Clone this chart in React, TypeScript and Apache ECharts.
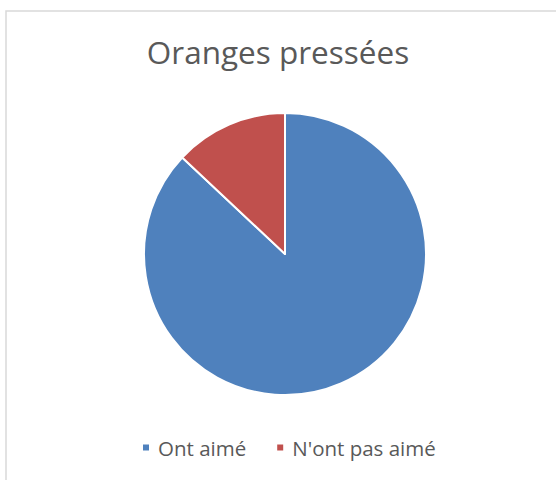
import React, { useEffect, useRef } from "react";
import * as echarts from "echarts";

const titleText = "Oranges pressées";
const categories = ["Ont aimé", "N'ont pas aimé"];
const values = [87, 13];
const colors = ["#4F81BD", "#C0504D"];

export default function App() {
  const ref = useRef<HTMLDivElement>(null);
  useEffect(() => {
    if (!ref.current) return;
    const chart = echarts.init(ref.current, null, { renderer: "svg" });
    chart.setOption({
      animation: false,
      backgroundColor: "#ffffff",
      graphic: [
        {
          type: "rect",
          shape: { x: 6, y: 11, width: 700, height: 700 },
          style: { fill: "none", stroke: "#d9d9d9", lineWidth: 1.5 },
          silent: true,
          z: -1,
        },
      ],
      title: {
        text: titleText,
        left: "center",
        top: 35,
        padding: [0, 0, 0, 22],
        textStyle: {
          fontFamily: "Open Sans",
          fontSize: 31.5,
          fontWeight: "normal",
          color: "#595959",
        },
      },
      legend: {
        data: categories,
        left: 141,
        top: 437,
        padding: 0,
        icon: "rect",
        itemWidth: 8,
        itemHeight: 8,
        itemGap: 29,
        textStyle: {
          fontFamily: "Open Sans",
          fontSize: 20.5,
          color: "#595959",
          padding: [0, 0, 0, 3],
        },
      },
      series: [
        {
          type: "pie",
          center: [285, 254],
          radius: 141,
          startAngle: 90,
          clockwise: true,
          label: { show: false },
          labelLine: { show: false },
          itemStyle: { borderColor: "#ffffff", borderWidth: 2 },
          emphasis: { disabled: true },
          data: categories.map((c, i) => ({
            name: c,
            value: values[i],
            itemStyle: { color: colors[i] },
          })),
        },
      ],
    });
    return () => chart.dispose();
  }, []);
  return (
    <div
      ref={ref}
      style={{ position: "fixed", left: 0, top: 0, width: 556, height: 480 }}
    />
  );
}
